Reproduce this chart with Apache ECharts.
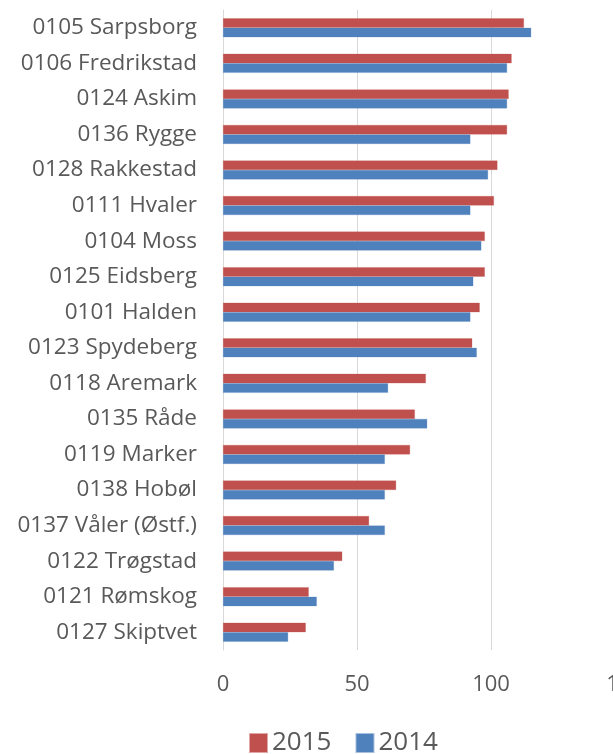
<!DOCTYPE html>
<html><head><meta charset="utf-8">
<script src="https://cdn.jsdelivr.net/npm/echarts@6/dist/echarts.min.js"></script>
<style>html,body{margin:0;padding:0;background:#fff}#c{width:613px;height:754px}</style>
</head><body><div id="c"></div>
<script>
const categories = ["0105 Sarpsborg","0106 Fredrikstad","0124 Askim","0136 Rygge","0128 Rakkestad","0111 Hvaler","0104 Moss","0125 Eidsberg","0101 Halden","0123 Spydeberg","0118 Aremark","0135 Råde","0119 Marker","0138 Hobøl","0137 Våler (Østf.)","0122 Trøgstad","0121 Rømskog","0127 Skiptvet"];
const values2015 = [112.3,107.7,106.6,106,102.4,101.1,97.7,97.7,95.8,93,75.7,71.6,69.8,64.6,54.5,44.5,32,30.9];
const values2014 = [115,106,106,92.3,98.9,92.3,96.4,93.4,92.3,94.7,61.6,76.2,60.4,60.4,60.4,41.4,35,24.3];
const xTicks = [0,50,100,150];

const chart = echarts.init(document.getElementById('c'), null, {renderer:'canvas'});
const font = "'Open Sans', sans-serif";
chart.setOption({
  animation:false,
  textStyle:{fontFamily:font},
  grid:{left:223,width:402,top:10,height:640,containLabel:false,outerBoundsMode:'none'},
  legend:{
    data:['2015','2014'], left:249, top:730, padding:0, itemWidth:17, itemHeight:18, itemGap:24,
    icon:'rect', textStyle:{fontSize:26,lineHeight:26,color:'#595959',fontFamily:font}
  },
  xAxis:{
    type:'value', min:xTicks[0], max:xTicks[xTicks.length-1], interval:50,
    axisLine:{show:false}, axisTick:{show:false},
    splitLine:{show:true,lineStyle:{color:'#d9d9d9',width:1}},
    axisLabel:{fontSize:22,color:'#595959',margin:24,fontFamily:font}
  },
  yAxis:{
    type:'category', data:categories, inverse:true,
    axisLine:{show:true,lineStyle:{color:'#d9d9d9',width:1}}, axisTick:{show:false},
    axisLabel:{fontSize:22.5,color:'#595959',margin:26,fontFamily:font}
  },
  series:[
    {name:'2015',type:'bar',data:values2015,barWidth:9.5,barGap:'0%',itemStyle:{color:'#C0504D',borderColor:'rgba(192,80,77,0.5)',borderWidth:0.5}},
    {name:'2014',type:'bar',data:values2014,barWidth:9.5,barGap:'0%',itemStyle:{color:'#4F81BD',borderColor:'rgba(79,129,189,0.5)',borderWidth:0.5}}
  ]
});
</script></body></html>
